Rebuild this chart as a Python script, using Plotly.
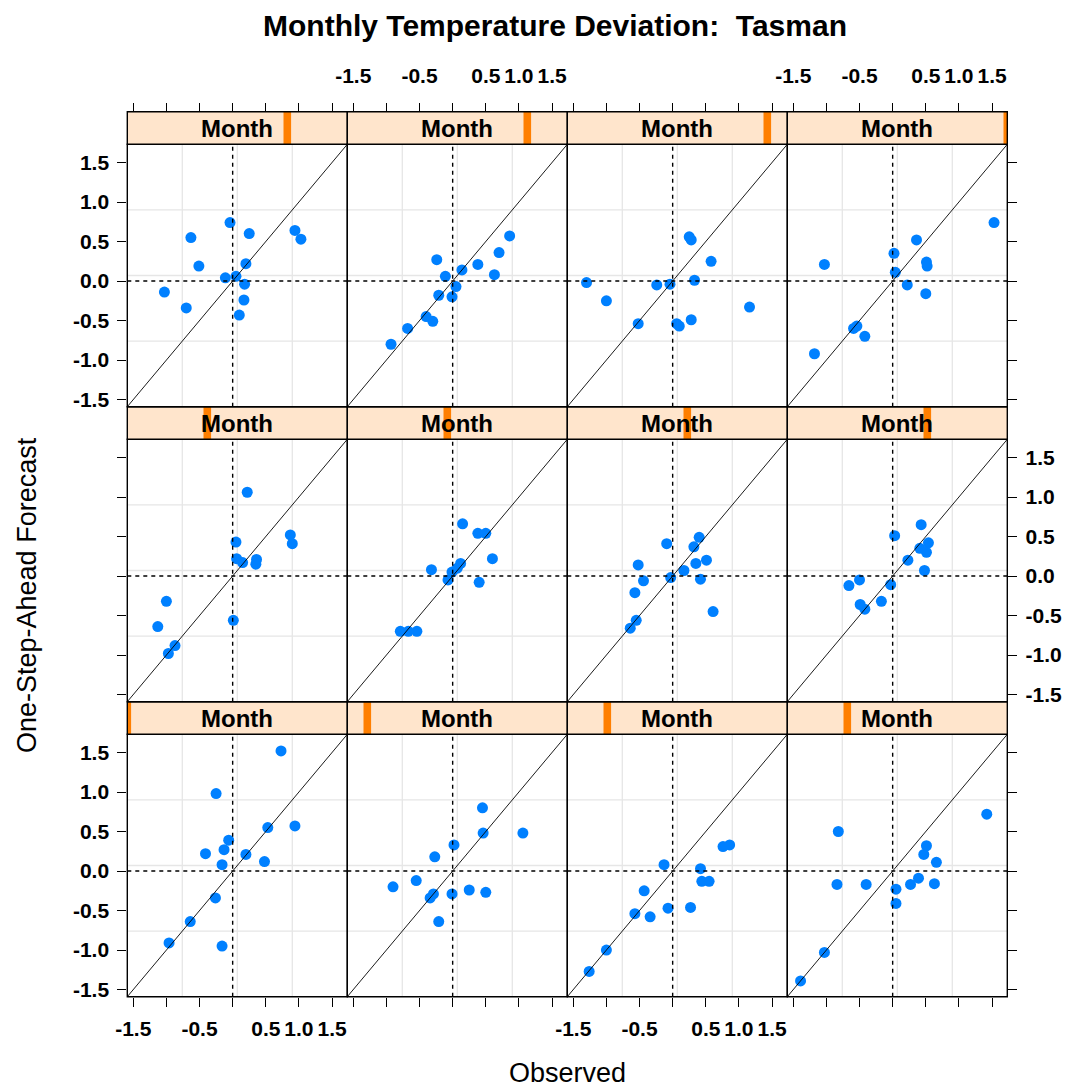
import plotly.graph_objects as go

# ---------------- data (observed, one-step-ahead forecast) ----------------
months = ["Jan", "Feb", "Mar", "Apr", "May", "Jun",
          "Jul", "Aug", "Sep", "Oct", "Nov", "Dec"]

jan_obs = [0.73, -0.25, 0.94, 0.53, -0.06, -0.13, -0.41, 0.20, 0.48, -0.16, -0.26, -0.64, -0.96, -0.16]
jan_fc = [1.52, 0.98, 0.57, 0.55, 0.39, 0.27, 0.22, 0.21, 0.12, 0.08, -0.34, -0.64, -0.91, -0.95]

feb_obs = [0.45, 0.46, 1.06, 0.02, -0.27, -0.55, -0.90, 0.25, 0.50, -0.01, -0.29, -0.34, -0.21]
feb_fc = [0.80, 0.48, 0.48, 0.33, 0.18, -0.12, -0.20, -0.24, -0.27, -0.29, -0.29, -0.34, -0.64]

mar_obs = [0.86, 0.76, -0.13, 0.42, 0.44, 0.55, -0.43, -0.57, -0.34, -0.07, 0.27, -1.00, -1.26]
mar_fc = [0.33, 0.31, 0.08, 0.03, -0.13, -0.13, -0.25, -0.54, -0.58, -0.47, -0.46, -1.00, -1.27]

apr_obs = [1.42, -0.82, 0.51, 0.47, 0.66, -0.84, -0.40, 0.27, 0.39, 0.63, 0.05, 0.05, -1.03, -1.39]
apr_fc = [0.72, 0.50, 0.32, 0.21, 0.11, -0.17, -0.17, -0.17, -0.09, -0.16, -0.23, -0.41, -1.03, -1.39]

may_obs = [0.22, 0.05, 0.87, 0.90, 0.06, 0.15, 0.36, 0.35, -1.00, 0.01, -1.13, -0.87, -0.97]
may_fc = [1.06, 0.43, 0.52, 0.41, 0.22, 0.17, 0.21, 0.15, -0.32, -0.56, -0.64, -0.88, -0.98]

jun_obs = [0.15, 0.38, 0.50, 0.60, -0.32, 0.12, 0.07, -0.01, -0.07, 0.40, -0.79, -0.67, -0.54]
jun_fc = [0.66, 0.54, 0.54, 0.22, 0.08, 0.16, 0.10, 0.05, -0.05, -0.08, -0.70, -0.70, -0.70]

jul_obs = [0.40, 0.32, -0.09, 0.51, 0.35, -0.52, 0.17, -0.03, -0.44, 0.42, -0.57, 0.61, -0.55, -0.64]
jul_fc = [0.49, 0.37, 0.41, 0.20, 0.16, 0.14, 0.07, -0.02, -0.06, -0.04, -0.21, -0.45, -0.56, -0.66]

aug_obs = [0.43, 0.03, 0.54, 0.41, 0.51, 0.23, 0.48, -0.50, -0.66, -0.03, -0.17, -0.49, -0.42]
aug_fc = [0.65, 0.51, 0.42, 0.35, 0.30, 0.20, 0.07, -0.05, -0.12, -0.11, -0.32, -0.36, -0.42]

sep_obs = [-0.04, -0.63, 0.25, 0.94, 1.03, -0.51, 0.20, -0.11, 0.05, 0.18, -1.03, 0.17, -0.70, 0.10]
sep_fc = [0.74, 0.55, 0.60, 0.64, 0.53, 0.19, 0.22, 0.04, 0.06, -0.04, -0.14, -0.24, -0.34, -0.43]

oct_obs = [0.86, 0.70, -0.24, 0.38, 0.14, 0.63, -0.11, 0.05, -0.01, -0.21, -0.40, -0.30, -0.68, -0.93]
oct_fc = [0.57, 0.36, 0.27, 0.21, 0.14, 0.08, 0.06, -0.07, -0.20, -0.18, -0.45, -0.51, -0.60, -0.80]

nov_obs = [0.25, 0.28, 0.58, -1.30, -0.24, -0.04, 0.33, -1.00, 1.16, -0.52, 0.28, 0.06, 0.10]
nov_fc = [0.56, 0.52, 0.25, -0.02, -0.05, -0.04, 0.01, -0.25, -0.33, -0.54, -0.49, -0.54, -0.57]

dec_obs = [1.53, 0.36, 0.02, 0.51, 0.52, -1.03, 0.04, 0.22, 0.50, -0.54, -0.59, -0.42, -1.18]
dec_fc = [0.74, 0.52, 0.35, 0.24, 0.19, 0.21, 0.11, -0.05, -0.16, -0.57, -0.60, -0.70, -0.92]

obs_by_month = [jan_obs, feb_obs, mar_obs, apr_obs, may_obs, jun_obs,
                jul_obs, aug_obs, sep_obs, oct_obs, nov_obs, dec_obs]
fc_by_month = [jan_fc, feb_fc, mar_fc, apr_fc, may_fc, jun_fc,
               jul_fc, aug_fc, sep_fc, oct_fc, nov_fc, dec_fc]

tick_vals = [-1.5, -1.0, -0.5, 0.0, 0.5, 1.0, 1.5]
x_tick_text = ["-1.5", "", "-0.5", "", "0.5", "1.0", "1.5"]
y_tick_text = ["-1.5", "-1.0", "-0.5", "0.0", "0.5", "1.0", "1.5"]
axis_range = [-1.59, 1.73]

# ---------------- layout geometry (pixels in the page) ----------------
W, H = 1080, 1092
PAGE_OFFSET = 8          # browser body margin
X_LEFT = 127.3
PANEL_W = 220.0
Y_TOP = 111.7
STRIP_H = 32.6
PLOT_H = 262.4
ROW_H = STRIP_H + PLOT_H

POINT_COL = "#0080ff"
STRIP_BG = "#ffe5cc"
STRIP_BAR = "#ff7f00"
GRID_COL = "#e6e6e6"
FONT = "Liberation Sans"


def px_x(p):
    return (p - PAGE_OFFSET) / W


def px_y(p):
    return 1 - (p - PAGE_OFFSET) / H


fig = go.Figure()
shapes = []
annotations = []

tick_font = dict(family=FONT, size=21, color="black", weight="bold")

for m in range(12):
    i = m + 1
    row_from_bottom = m // 4
    col = m % 4
    row = 2 - row_from_bottom  # row from top
    x0 = X_LEFT + col * PANEL_W
    x1 = x0 + PANEL_W
    strip_top = Y_TOP + row * ROW_H
    strip_bot = strip_top + STRIP_H
    plot_bot = strip_bot + PLOT_H

    xa = "x" if i == 1 else f"x{i}"
    ya = "y" if i == 1 else f"y{i}"
    xkey = "xaxis" if i == 1 else f"xaxis{i}"
    ykey = "yaxis" if i == 1 else f"yaxis{i}"

    xaxis = dict(domain=[px_x(x0), px_x(x1)], range=axis_range, showgrid=False,
                 zeroline=False, showline=False, tickvals=tick_vals, ticktext=x_tick_text,
                 tickfont=tick_font, ticklen=9, tickwidth=1.3, tickcolor="black",
                 automargin=False, fixedrange=True)
    if row == 2:
        xaxis.update(anchor=ya, side="bottom", ticks="outside",
                     showticklabels=(col in (0, 2)), ticklabelstandoff=4)
    elif row == 0:
        xaxis.update(anchor="free", position=px_y(strip_top), side="top", ticks="outside",
                     showticklabels=(col in (1, 3)), ticklabelstandoff=11)
    else:
        xaxis.update(anchor=ya, ticks="", showticklabels=False)

    yaxis = dict(domain=[px_y(plot_bot), px_y(strip_bot)], range=axis_range, showgrid=False,
                 zeroline=False, showline=False, tickvals=tick_vals, ticktext=y_tick_text,
                 tickfont=tick_font, ticklen=9, tickwidth=1.3, tickcolor="black",
                 automargin=False, anchor=xa, fixedrange=True)
    if col == 0:
        yaxis.update(side="left", ticks="outside", showticklabels=(row in (0, 2)),
                     ticklabelstandoff=4)
    elif col == 3:
        yaxis.update(side="right", ticks="outside", showticklabels=(row == 1),
                     ticklabelstandoff=4)
    else:
        yaxis.update(ticks="", showticklabels=False)

    fig.update_layout({xkey: xaxis, ykey: yaxis})

    # reference grid (3 evenly spaced lines each way)
    span = axis_range[1] - axis_range[0]
    for k in (1, 2, 3):
        g = axis_range[0] + k * span / 4
        shapes.append(dict(type="line", xref=xa, yref=ya, x0=g, x1=g,
                           y0=axis_range[0], y1=axis_range[1],
                           line=dict(color=GRID_COL, width=1.3), layer="below"))
        shapes.append(dict(type="line", xref=xa, yref=ya, y0=g, y1=g,
                           x0=axis_range[0], x1=axis_range[1],
                           line=dict(color=GRID_COL, width=1.3), layer="below"))

    # points
    fig.add_trace(go.Scatter(x=obs_by_month[m], y=fc_by_month[m], mode="markers",
                             xaxis=xa, yaxis=ya, showlegend=False, hoverinfo="skip",
                             marker=dict(color=POINT_COL, size=11, line=dict(width=0))))

    # zero reference lines & identity line
    shapes.append(dict(type="line", xref=xa, yref=ya, x0=0, x1=0,
                       y0=axis_range[0], y1=axis_range[1],
                       line=dict(color="black", width=1.4, dash="4px,4px")))
    shapes.append(dict(type="line", xref=xa, yref=ya, y0=0, y1=0,
                       x0=axis_range[0], x1=axis_range[1],
                       line=dict(color="black", width=1.4, dash="4px,4px")))
    shapes.append(dict(type="line", xref=xa, yref=ya, x0=axis_range[0], y0=axis_range[0],
                       x1=axis_range[1], y1=axis_range[1],
                       line=dict(color="black", width=0.9)))

    # panel border
    shapes.append(dict(type="rect", xref="paper", yref="paper",
                       x0=px_x(x0), x1=px_x(x1), y0=px_y(plot_bot), y1=px_y(strip_bot),
                       line=dict(color="black", width=1.4), fillcolor="rgba(0,0,0,0)"))

    # strip
    shapes.append(dict(type="rect", xref="paper", yref="paper",
                       x0=px_x(x0), x1=px_x(x1), y0=px_y(strip_bot), y1=px_y(strip_top),
                       line=dict(width=0), fillcolor=STRIP_BG))
    c = x0 + m / 11 * PANEL_W
    bx0 = max(x0, c - 3.8)
    bx1 = min(x1, c + 3.8)
    shapes.append(dict(type="rect", xref="paper", yref="paper",
                       x0=px_x(bx0), x1=px_x(bx1), y0=px_y(strip_bot), y1=px_y(strip_top),
                       line=dict(width=0), fillcolor=STRIP_BAR))
    shapes.append(dict(type="rect", xref="paper", yref="paper",
                       x0=px_x(x0), x1=px_x(x1), y0=px_y(strip_bot), y1=px_y(strip_top),
                       line=dict(color="black", width=1.4), fillcolor="rgba(0,0,0,0)"))
    annotations.append(dict(text="Month", xref="paper", yref="paper",
                            x=px_x((x0 + x1) / 2), y=px_y((strip_top + strip_bot) / 2),
                            xanchor="center", yanchor="middle", showarrow=False,
                            font=dict(family=FONT, size=24, color="black", weight="bold")))

# titles
annotations.append(dict(text="Monthly Temperature Deviation:\u00a0 Tasman", xref="paper", yref="paper",
                        x=px_x(555), y=1.0, xanchor="center", yanchor="top",
                        showarrow=False, borderpad=0,
                        font=dict(family=FONT, size=30, color="black", weight="bold")))
annotations.append(dict(text="Observed", xref="paper", yref="paper",
                        x=px_x(567), y=px_y(1073), xanchor="center", yanchor="middle",
                        showarrow=False, font=dict(family=FONT, size=27, color="black")))
annotations.append(dict(text="One-Step-Ahead Forecast", xref="paper", yref="paper",
                        x=px_x(27), y=px_y(595), xanchor="center", yanchor="middle",
                        textangle=-90, showarrow=False,
                        font=dict(family=FONT, size=27, color="black")))

fig.update_layout(width=W, height=H, margin=dict(l=0, r=0, t=0, b=0),
                  paper_bgcolor="white", plot_bgcolor="white",
                  shapes=shapes, annotations=annotations, showlegend=False)

fig.write_html("out.html")
